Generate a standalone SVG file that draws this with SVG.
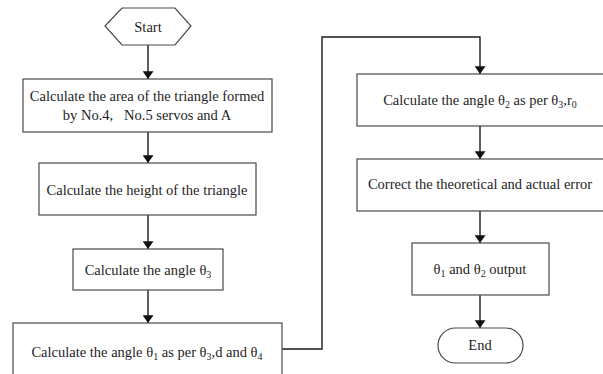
<svg xmlns="http://www.w3.org/2000/svg" width="603" height="374" viewBox="0 0 603 374">
  <style>
    .box { fill: #ffffff; stroke: #4a4a4a; stroke-width: 1.2; }
    .wire { fill: none; stroke: #1a1a1a; stroke-width: 1.4; }
    .lbl { font-family: "Liberation Serif", "Times New Roman", serif; font-size: 14.5px; fill: #1e1e1e; text-anchor: middle; }
    .sub { font-size: 10px; }
  </style>
  <defs>
    <marker id="arrow" viewBox="0 0 10 14" refX="10" refY="7" markerWidth="8" markerHeight="11" markerUnits="userSpaceOnUse" orient="auto">
      <path d="M0,0 L10,7 L0,14 Z" fill="#111"/>
    </marker>
  </defs>
  <rect width="603" height="374" fill="#ffffff"/>

  <!-- connectors -->
  <g id="connectors">
    <line class="wire" x1="148" y1="45" x2="148" y2="79" marker-end="url(#arrow)"/>
    <line class="wire" x1="148" y1="132" x2="148" y2="163" marker-end="url(#arrow)"/>
    <line class="wire" x1="148" y1="215" x2="148" y2="249" marker-end="url(#arrow)"/>
    <line class="wire" x1="148" y1="290" x2="148" y2="323" marker-end="url(#arrow)"/>
    <polyline class="wire" points="282,349 322,349 322,37 480,37 480,74" marker-end="url(#arrow)"/>
    <line class="wire" x1="480" y1="126" x2="480" y2="159" marker-end="url(#arrow)"/>
    <line class="wire" x1="480" y1="211" x2="480" y2="243" marker-end="url(#arrow)"/>
    <line class="wire" x1="480" y1="295" x2="480" y2="328" marker-end="url(#arrow)"/>
  </g>

  <!-- nodes -->
  <g id="start">
    <polygon class="box" points="105,26 122,8 175,8 191,26 175,45 122,45"/>
    <text class="lbl" x="148" y="32">Start</text>
  </g>
  <g id="area">
    <rect class="box" x="23" y="79" width="249" height="53"/>
    <text class="lbl" x="147" y="101">Calculate the area of the triangle formed</text>
    <text class="lbl" x="147" y="120" xml:space="preserve">by No.4,   No.5 servos and A</text>
  </g>
  <g id="height">
    <rect class="box" x="39" y="163" width="217" height="52"/>
    <text class="lbl" x="147" y="195">Calculate the height of the triangle</text>
  </g>
  <g id="theta3">
    <rect class="box" x="73" y="249" width="150" height="41"/>
    <text class="lbl" x="148" y="275">Calculate the angle θ<tspan class="sub" dy="3">3</tspan></text>
  </g>
  <g id="theta1">
    <rect class="box" x="13" y="323" width="269" height="60"/>
    <text class="lbl" x="147" y="357">Calculate the angle θ<tspan class="sub" dy="3">1</tspan><tspan dy="-3"> as per θ</tspan><tspan class="sub" dy="3">3</tspan><tspan dy="-3">,d and θ</tspan><tspan class="sub" dy="3">4</tspan></text>
  </g>
  <g id="theta2">
    <rect class="box" x="357" y="74" width="250" height="52"/>
    <text class="lbl" x="480" y="105">Calculate the angle θ<tspan class="sub" dy="3">2</tspan><tspan dy="-3"> as per θ</tspan><tspan class="sub" dy="3">3</tspan><tspan dy="-3">,r</tspan><tspan class="sub" dy="3">0</tspan></text>
  </g>
  <g id="correct">
    <rect class="box" x="357" y="159" width="250" height="52"/>
    <text class="lbl" x="480" y="189">Correct the theoretical and actual error</text>
  </g>
  <g id="output">
    <rect class="box" x="412" y="243" width="137" height="52"/>
    <text class="lbl" x="480" y="274">θ<tspan class="sub" dy="3">1</tspan><tspan dy="-3"> and θ</tspan><tspan class="sub" dy="3">2</tspan><tspan dy="-3"> output</tspan></text>
  </g>
  <g id="end">
    <rect class="box" x="438" y="328" width="85" height="35" rx="17.5" ry="17.5"/>
    <text class="lbl" x="480" y="350">End</text>
  </g>
</svg>
